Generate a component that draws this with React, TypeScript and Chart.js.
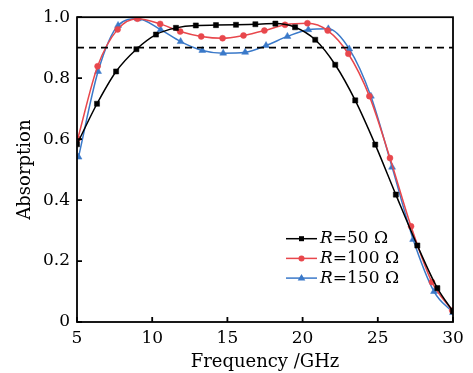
import React, { useEffect, useRef } from "react";
import { Chart, registerables } from "chart.js";

Chart.register(...registerables);

const freq50 = [5, 6.33, 7.6, 8.95, 10.25, 11.58, 12.9, 14.24, 15.57, 16.86, 18.19, 19.5, 20.84, 22.17, 23.5, 24.83, 26.2, 27.63, 28.96, 30];
const abs50 = [0.583, 0.716, 0.822, 0.895, 0.943, 0.965, 0.973, 0.974, 0.975, 0.977, 0.979, 0.967, 0.926, 0.844, 0.727, 0.582, 0.418, 0.251, 0.111, 0.035];

const freq100 = [5.05, 6.37, 7.7, 9.02, 10.53, 11.86, 13.26, 14.68, 16.07, 17.46, 18.83, 20.32, 21.67, 23.04, 24.44, 25.81, 27.21, 28.6, 29.95];
const abs100 = [0.601, 0.839, 0.96, 0.995, 0.978, 0.953, 0.937, 0.931, 0.94, 0.956, 0.975, 0.98, 0.956, 0.88, 0.741, 0.538, 0.314, 0.131, 0.038];

const freq150 = [5.1, 6.4, 7.73, 9.05, 10.56, 11.89, 13.33, 14.72, 16.18, 17.57, 18.99, 20.38, 21.71, 23.1, 24.54, 25.95, 27.35, 28.74, 30];
const abs150 = [0.541, 0.822, 0.973, 0.995, 0.959, 0.92, 0.891, 0.882, 0.885, 0.907, 0.937, 0.959, 0.962, 0.896, 0.741, 0.508, 0.271, 0.1, 0.031];

const thresholdX = [5, 30];
const thresholdY = [0.9, 0.9];

const seriesLabels = ["50 Ω", "100 Ω", "150 Ω"];
const xTicks = [5, 10, 15, 20, 25, 30];
const yTicks = [0, 0.2, 0.4, 0.6, 0.8, 1.0];

const FONT = "'DejaVu Serif', serif";
const COLORS = ["#000000", "#e8474c", "#3a79c9"];
const STYLES = ["rect", "circle", "triangle"];
const RADII = [3.6, 3, 4];

const toPts = (xs: number[], ys: number[]) => xs.map((x, i) => ({ x, y: ys[i] }));

const framePlugin = {
  id: "frame",
  afterDatasetsDraw(chart: any) {
    const { ctx, chartArea: a, scales } = chart;
    ctx.save();
    ctx.strokeStyle = "#000";
    ctx.lineWidth = 1.8;
    ctx.strokeRect(a.left, a.top, a.right - a.left, a.bottom - a.top);
    ctx.beginPath();
    xTicks.forEach((t) => {
      const x = scales.x.getPixelForValue(t);
      ctx.moveTo(x, a.bottom);
      ctx.lineTo(x, a.bottom - 5);
    });
    yTicks.forEach((t) => {
      const y = scales.y.getPixelForValue(t);
      ctx.moveTo(a.left, y);
      ctx.lineTo(a.left + 5, y);
    });
    ctx.stroke();

    // legend
    const lx0 = a.left + 209;
    const lx1 = lx0 + 31;
    const ty0 = a.top + 221.5;
    const step = 19.7;
    seriesLabels.forEach((lab, i) => {
      const y = ty0 + i * step;
      ctx.strokeStyle = COLORS[i];
      ctx.lineWidth = 1.5;
      ctx.beginPath();
      ctx.moveTo(lx0, y);
      ctx.lineTo(lx1, y);
      ctx.stroke();
      ctx.fillStyle = COLORS[i];
      const cx = (lx0 + lx1) / 2;
      ctx.beginPath();
      if (i === 0) {
        ctx.rect(cx - 2.5, y - 2.5, 5, 5);
      } else if (i === 1) {
        ctx.arc(cx, y, 3, 0, Math.PI * 2);
      } else {
        ctx.moveTo(cx, y - 4);
        ctx.lineTo(cx + 3.8, y + 2.5);
        ctx.lineTo(cx - 3.8, y + 2.5);
        ctx.closePath();
      }
      ctx.fill();
      ctx.fillStyle = "#000";
      ctx.textBaseline = "middle";
      ctx.textAlign = "left";
      let tx = lx1 + 3;
      ctx.font = `italic 17px ${FONT}`;
      ctx.fillText("R", tx, y);
      tx += ctx.measureText("R").width;
      ctx.font = `17px ${FONT}`;
      ctx.fillText("=" + lab, tx, y);
    });
    ctx.restore();
  },
};

export default function App() {
  const ref = useRef<HTMLCanvasElement | null>(null);

  useEffect(() => {
    document.body.style.margin = "0";
    if (!ref.current) return;
    const mk = (i: number, xs: number[], ys: number[]) => ({
      label: "R=" + seriesLabels[i],
      data: toPts(xs, ys),
      borderColor: COLORS[i],
      backgroundColor: COLORS[i],
      borderWidth: 1.5,
      pointStyle: STYLES[i],
      pointRadius: RADII[i],
      pointBorderWidth: 0.5,
      cubicInterpolationMode: "monotone" as const,
      fill: false,
    });
    const chart = new Chart(ref.current, {
      type: "line",
      data: {
        datasets: [
          {
            label: "threshold",
            data: toPts(thresholdX, thresholdY),
            borderColor: "#000",
            borderWidth: 1.8,
            borderDash: [7, 5],
            pointRadius: 0,
            fill: false,
          },
          mk(0, freq50, abs50),
          mk(1, freq100, abs100),
          mk(2, freq150, abs150),
        ],
      },
      plugins: [framePlugin],
      options: {
        animation: false,
        responsive: true,
        maintainAspectRatio: false,
        layout: { padding: { left: 0, right: 20, top: 17, bottom: 0 } },
        plugins: { legend: { display: false }, tooltip: { enabled: false } },
        scales: {
          x: {
            type: "linear",
            min: 5,
            max: 30,
            afterBuildTicks: (s: any) => {
              s.ticks = xTicks.map((v) => ({ value: v }));
            },
            afterFit: (s: any) => {
              s.height = 51;
            },
            grid: { display: false, drawTicks: false },
            border: { display: false },
            ticks: {
              padding: 6,
              color: "#000",
              font: { family: FONT, size: 17 },
              maxRotation: 0,
              callback: (v: any) => String(v),
            },
            title: {
              display: true,
              text: "Frequency /GHz",
              color: "#000",
              font: { family: FONT, size: 18 },
              padding: { top: 3, bottom: 0 },
            },
          },
          y: {
            type: "linear",
            min: 0,
            max: 1,
            afterBuildTicks: (s: any) => {
              s.ticks = yTicks.map((v) => ({ value: v }));
            },
            afterFit: (s: any) => {
              s.width = 77;
            },
            grid: { display: false, drawTicks: false },
            border: { display: false },
            ticks: {
              padding: 7,
              color: "#000",
              font: { family: FONT, size: 17 },
              callback: (v: any) => (v === 0 ? "0" : Number(v).toFixed(1)),
            },
            title: {
              display: true,
              text: "Absorption",
              color: "#000",
              font: { family: FONT, size: 18 },
              padding: { top: 15, bottom: 0 },
            },
          },
        },
      },
    });
    return () => chart.destroy();
  }, []);

  return (
    <div style={{ position: "relative", width: 473, height: 373 }}>
      <canvas ref={ref} />
    </div>
  );
}
